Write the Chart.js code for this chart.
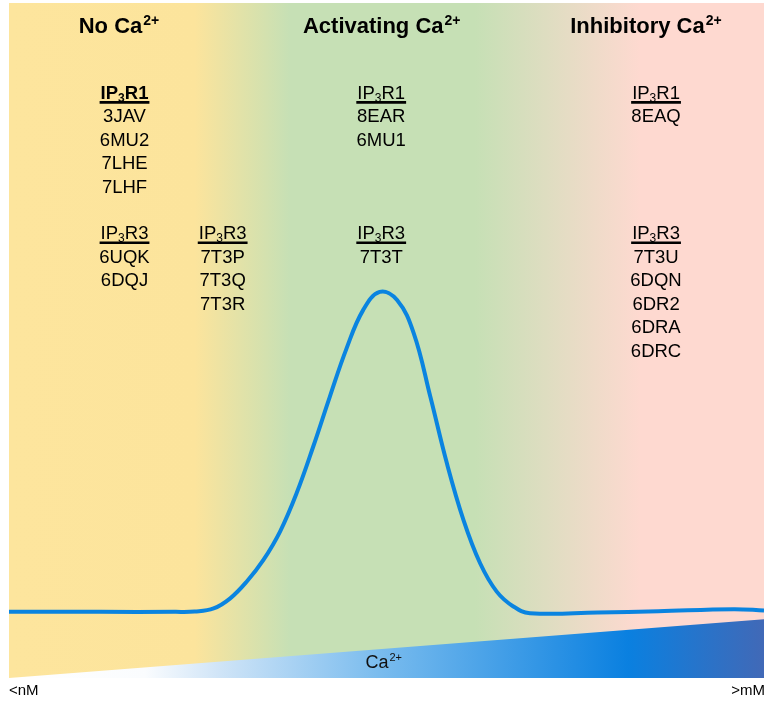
<!DOCTYPE html>
<html>
<head>
<meta charset="utf-8">
<script src="https://cdn.jsdelivr.net/npm/chart.js@4.4.1/dist/chart.umd.min.js"></script>
<style>
  html, body { margin: 0; padding: 0; background: #fff; }
</style>
</head>
<body>
<canvas id="gatingChart" width="767" height="702"></canvas>
<script>
// Ca2+ level (0 = <nM, 100 = >mM) vs. relative channel activity
const caLevel  = [0, 12, 22, 24.6, 27.1, 29.3, 31.5, 33.7, 35.9, 38.1, 40.3, 42.5, 44.7, 46.9, 49.1,
                  51.4, 53.6, 55.8, 58.0, 60.2, 62.4, 64.6, 66.8, 69.0, 78.0, 86.0, 96.0, 100];
const activity = [9.8, 9.8, 9.8, 9.85, 10.3, 11.8, 14.3, 17.5, 21.7, 27.4, 34.3, 41.7, 48.8, 54.5, 57.2,
                  56.0, 51.1, 41.7, 31.8, 23.4, 17.0, 12.8, 10.6, 9.6, 9.7, 9.9, 10.2, 10.0];

// Ca2+ concentration wedge along the bottom
const rampX = [0, 100];
const rampY = [0, 8.7];
const rangeLabels = ['<nM', '>mM'];

// zone headings
const zoneTitles = ['No Ca', 'Activating Ca', 'Inhibitory Ca'];

// PDB entries per condition
const r1NoCa   = ['3JAV', '6MU2', '7LHE', '7LHF'];
const r3NoCa   = ['6UQK', '6DQJ'];
const r3Mixed  = ['7T3P', '7T3Q', '7T3R'];
const r1Act    = ['8EAR', '6MU1'];
const r3Act    = ['7T3T'];
const r1Inh    = ['8EAQ'];
const r3Inh    = ['7T3U', '6DQN', '6DR2', '6DRA', '6DRC'];

const FONT = '"Liberation Sans", Arial, sans-serif';

// where each heading / group sits (x in Ca units, y in activity units)
const titleSpots = [
  { text: zoneTitles[0], x: 14.5 },
  { text: zoneTitles[1], x: 49.3 },
  { text: zoneTitles[2], x: 84.3 }
];
const groups = [
  { iso: '1', codes: r1NoCa,  x: 15.3, y: 85.8, bold: true },
  { iso: '3', codes: r3NoCa,  x: 15.3, y: 65.0 },
  { iso: '3', codes: r3Mixed, x: 28.3, y: 65.0 },
  { iso: '1', codes: r1Act,   x: 49.3, y: 85.8 },
  { iso: '3', codes: r3Act,   x: 49.3, y: 65.0 },
  { iso: '1', codes: r1Inh,   x: 85.7, y: 85.8 },
  { iso: '3', codes: r3Inh,   x: 85.7, y: 65.0 }
];

// background zones: yellow -> green -> pink
const zoneBg = {
  id: 'zoneBg',
  beforeDatasetsDraw(chart) {
    const { ctx, chartArea: a } = chart;
    const g = ctx.createLinearGradient(a.left, 0, a.right, 0);
    g.addColorStop(0, '#FDE59D');
    g.addColorStop(0.246, '#FCE49C');
    g.addColorStop(0.372, '#C6E0B5');
    g.addColorStop(0.617, '#C6E0B5');
    g.addColorStop(0.836, '#FED9D0');
    g.addColorStop(1, '#FED9D0');
    ctx.save();
    ctx.fillStyle = g;
    ctx.fillRect(a.left, a.top, a.right - a.left, a.bottom - a.top);
    ctx.restore();
  }
};

function drawSup(ctx, base, sup, cx, y, size, bold) {
  const w = bold ? 'bold ' : '';
  const supSize = Math.round(size * 0.62);
  ctx.font = `${w}${size}px ${FONT}`;
  const w1 = ctx.measureText(base).width;
  ctx.font = `${w}${supSize}px ${FONT}`;
  const w2 = ctx.measureText(sup).width;
  let x = cx - (w1 + w2) / 2;
  ctx.textAlign = 'left';
  ctx.font = `${w}${size}px ${FONT}`;
  ctx.fillText(base, x, y);
  ctx.font = `${w}${supSize}px ${FONT}`;
  ctx.fillText(sup, x + w1 + 1, y - size * 0.38);
}

function drawHeader(ctx, iso, cx, y, bold) {
  const w = bold ? 'bold ' : '';
  const big = `${w}18.5px ${FONT}`, small = `${w}12px ${FONT}`;
  ctx.font = big;
  const a = ctx.measureText('IP').width, c = ctx.measureText('R' + iso).width;
  ctx.font = small;
  const b = ctx.measureText('3').width;
  const total = a + b + c;
  let x = cx - total / 2;
  ctx.textAlign = 'left';
  ctx.font = big;
  ctx.fillText('IP', x, y);
  ctx.font = small;
  ctx.fillText('3', x + a, y + 3);
  ctx.font = big;
  ctx.fillText('R' + iso, x + a + b, y);
  ctx.lineWidth = 2.6;
  ctx.strokeStyle = '#000';
  ctx.beginPath();
  ctx.moveTo(x - 1, y + 3.5);
  ctx.lineTo(x + total + 1, y + 3.5);
  ctx.stroke();
}

const labels = {
  id: 'labels',
  afterDraw(chart) {
    const { ctx, chartArea: a } = chart;
    const xs = chart.scales.x, ys = chart.scales.y;
    ctx.save();
    ctx.fillStyle = '#000';
    ctx.textBaseline = 'alphabetic';
    titleSpots.forEach(t => drawSup(ctx, t.text, '2+', xs.getPixelForValue(t.x), 33, 22, true));
    groups.forEach(g => {
      const cx = xs.getPixelForValue(g.x);
      const y0 = ys.getPixelForValue(g.y);
      drawHeader(ctx, g.iso, cx, y0, g.bold);
      ctx.font = `18.5px ${FONT}`;
      ctx.textAlign = 'center';
      g.codes.forEach((c, i) => ctx.fillText(c, cx, y0 + 23.5 * (i + 1)));
    });
    // Ca2+ inside the wedge
    ctx.fillStyle = '#111';
    drawSup(ctx, 'Ca', '2+', xs.getPixelForValue(49.3) + 2, ys.getPixelForValue(1.5), 18, false);
    // range ends under the axis
    ctx.fillStyle = '#000';
    ctx.font = `15px ${FONT}`;
    ctx.textAlign = 'left';
    ctx.fillText(rangeLabels[0], xs.getPixelForValue(0), a.bottom + 17);
    ctx.textAlign = 'right';
    ctx.fillText(rangeLabels[1], xs.getPixelForValue(100) + 1, a.bottom + 17);
    ctx.restore();
  }
};

function rampFill(context) {
  const { chart } = context;
  const a = chart.chartArea;
  if (!a) return null;
  const g = chart.ctx.createLinearGradient(a.left, 0, a.right, 0);
  g.addColorStop(0, '#FFFFFF');
  g.addColorStop(0.18, '#FAFCFE');
  g.addColorStop(0.28, '#CFE4F7');
  g.addColorStop(0.49, '#7ABCEE');
  g.addColorStop(0.82, '#0A80E0');
  g.addColorStop(1, '#4169B7');
  return g;
}

new Chart(document.getElementById('gatingChart'), {
  type: 'line',
  data: {
    datasets: [
      {
        label: 'Activity',
        data: caLevel.map((x, i) => ({ x, y: activity[i] })),
        borderColor: '#0A84E0',
        borderWidth: 4,
        pointRadius: 0,
        tension: 0.4,
        fill: false
      },
      {
        label: 'Ca2+',
        data: rampX.map((x, i) => ({ x, y: rampY[i] })),
        borderWidth: 0,
        pointRadius: 0,
        backgroundColor: rampFill,
        fill: 'origin'
      }
    ]
  },
  options: {
    responsive: false,
    animation: false,
    layout: { padding: { left: 9, right: 3, top: 3, bottom: 24 } },
    plugins: { legend: { display: false }, tooltip: { enabled: false } },
    scales: {
      x: { type: 'linear', min: 0, max: 100, display: false },
      y: { min: 0, max: 100, display: false }
    }
  },
  plugins: [zoneBg, labels]
});
</script>
</body>
</html>
